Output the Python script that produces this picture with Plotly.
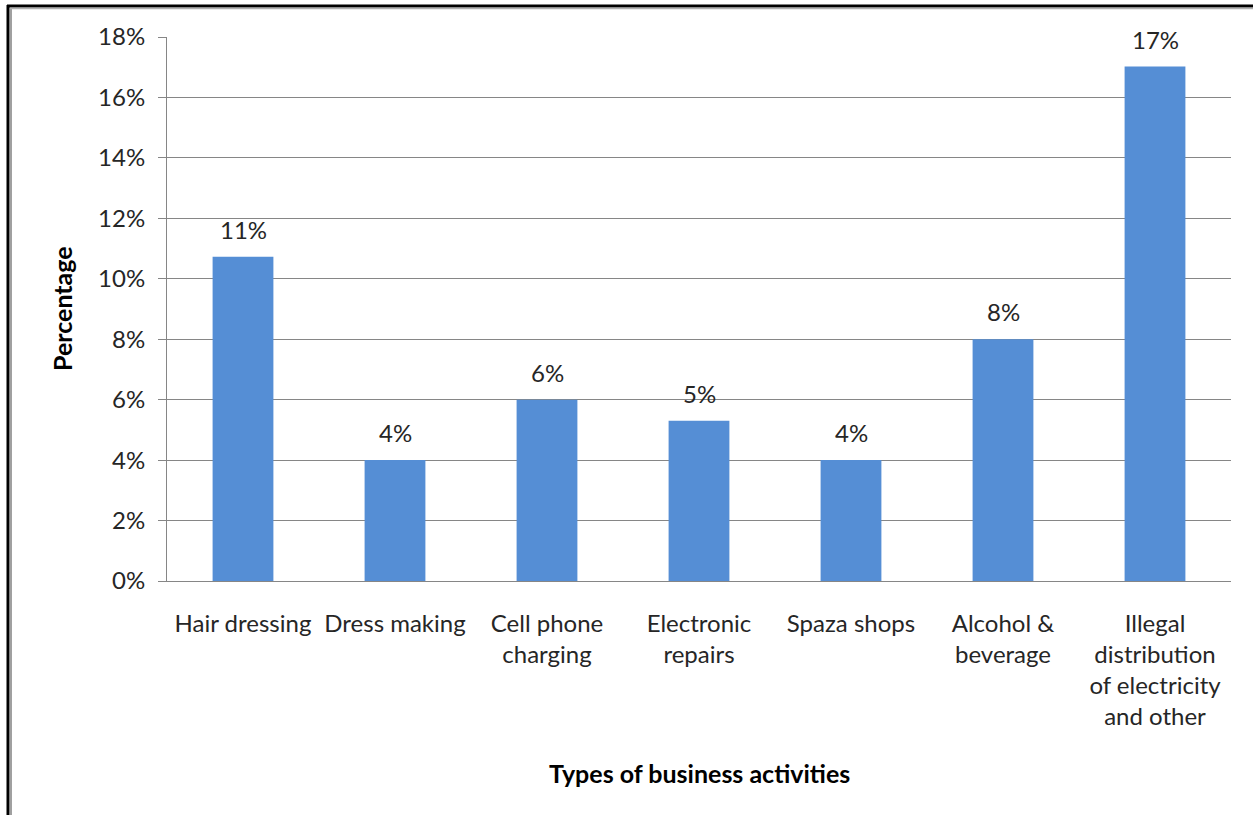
import plotly.graph_objects as go

categories = ["Hair dressing", "Dress making", "Cell phone<br>charging", "Electronic<br>repairs",
              "Spaza shops", "Alcohol &<br>beverage", "Illegal<br>distribution<br>of electricity<br>and other"]
values = [0.1073, 0.04, 0.06, 0.053, 0.04, 0.08, 0.1702]
labels = ["11%", "4%", "6%", "5%", "4%", "8%", "17%"]

W, H = 1258, 815
L, R, T, B = 167, 1231, 37, 581
FONT = "Lato, 'Open Sans', sans-serif"

def px(x):
    return (x - L) / (R - L)

def py(y):
    return (B - y) / (B - T)

fig = go.Figure()
fig.add_trace(go.Bar(x=categories, y=values, marker=dict(color="#558ED5", line=dict(width=0)),
                     hoverinfo="x+y"))

annotations = []
for c, v, t in zip(categories, values, labels):
    annotations.append(dict(x=c, y=v, xref="x", yref="y", text=t, showarrow=False,
                            yanchor="bottom", yshift=11, font=dict(size=24, color="#262626", family=FONT)))
annotations.append(dict(x=px(62), y=0.5, xref="paper", yref="paper", text="<b>Percentage</b>",
                        xanchor="center", yanchor="middle",
                        textangle=-90, showarrow=False, font=dict(size=25, color="#000000", family=FONT)))
annotations.append(dict(x=0.5, y=py(773), xref="paper", yref="paper", text="<b>Types of business activities</b>",
                        xanchor="center", yanchor="middle",
                        showarrow=False, font=dict(size=25, color="#000000", family=FONT)))

shapes = [
    dict(type="line", xref="paper", yref="paper", x0=px(7), x1=px(1253), y0=py(6), y1=py(6),
         line=dict(color="#000000", width=3)),
    dict(type="line", xref="paper", yref="paper", x0=px(8), x1=px(8), y0=py(5), y1=py(816),
         line=dict(color="#000000", width=3)),
    dict(type="line", xref="paper", yref="paper", x0=px(11), x1=px(11), y0=py(9), y1=py(816),
         line=dict(color="#A0A0A0", width=2)),
    dict(type="line", xref="paper", yref="paper", x0=px(10), x1=px(1253), y0=py(8.5), y1=py(8.5),
         line=dict(color="#B0B0B0", width=1.5)),
]

fig.update_layout(
    width=W, height=H,
    margin=dict(l=L, r=W - R, t=T, b=H - B, autoexpand=False),
    paper_bgcolor="white", plot_bgcolor="white",
    bargap=0.6, showlegend=False,
    font=dict(family=FONT, size=24, color="#262626"),
    annotations=annotations, shapes=shapes,
)
fig.update_xaxes(showline=True, linecolor="#868686", linewidth=1, ticks="", showgrid=False,
                 tickfont=dict(size=24, family=FONT, color="#262626"), ticklabelstandoff=21)
fig.update_yaxes(range=[0, 0.18], dtick=0.02, tickformat=".0%", showline=True, linecolor="#868686",
                 linewidth=1, gridcolor="#868686", gridwidth=1, ticks="outside", ticklen=8,
                 tickcolor="#868686", tickfont=dict(size=24, family=FONT, color="#262626"),
                 ticklabelstandoff=8, zeroline=False)

fig.write_html("out.html")
